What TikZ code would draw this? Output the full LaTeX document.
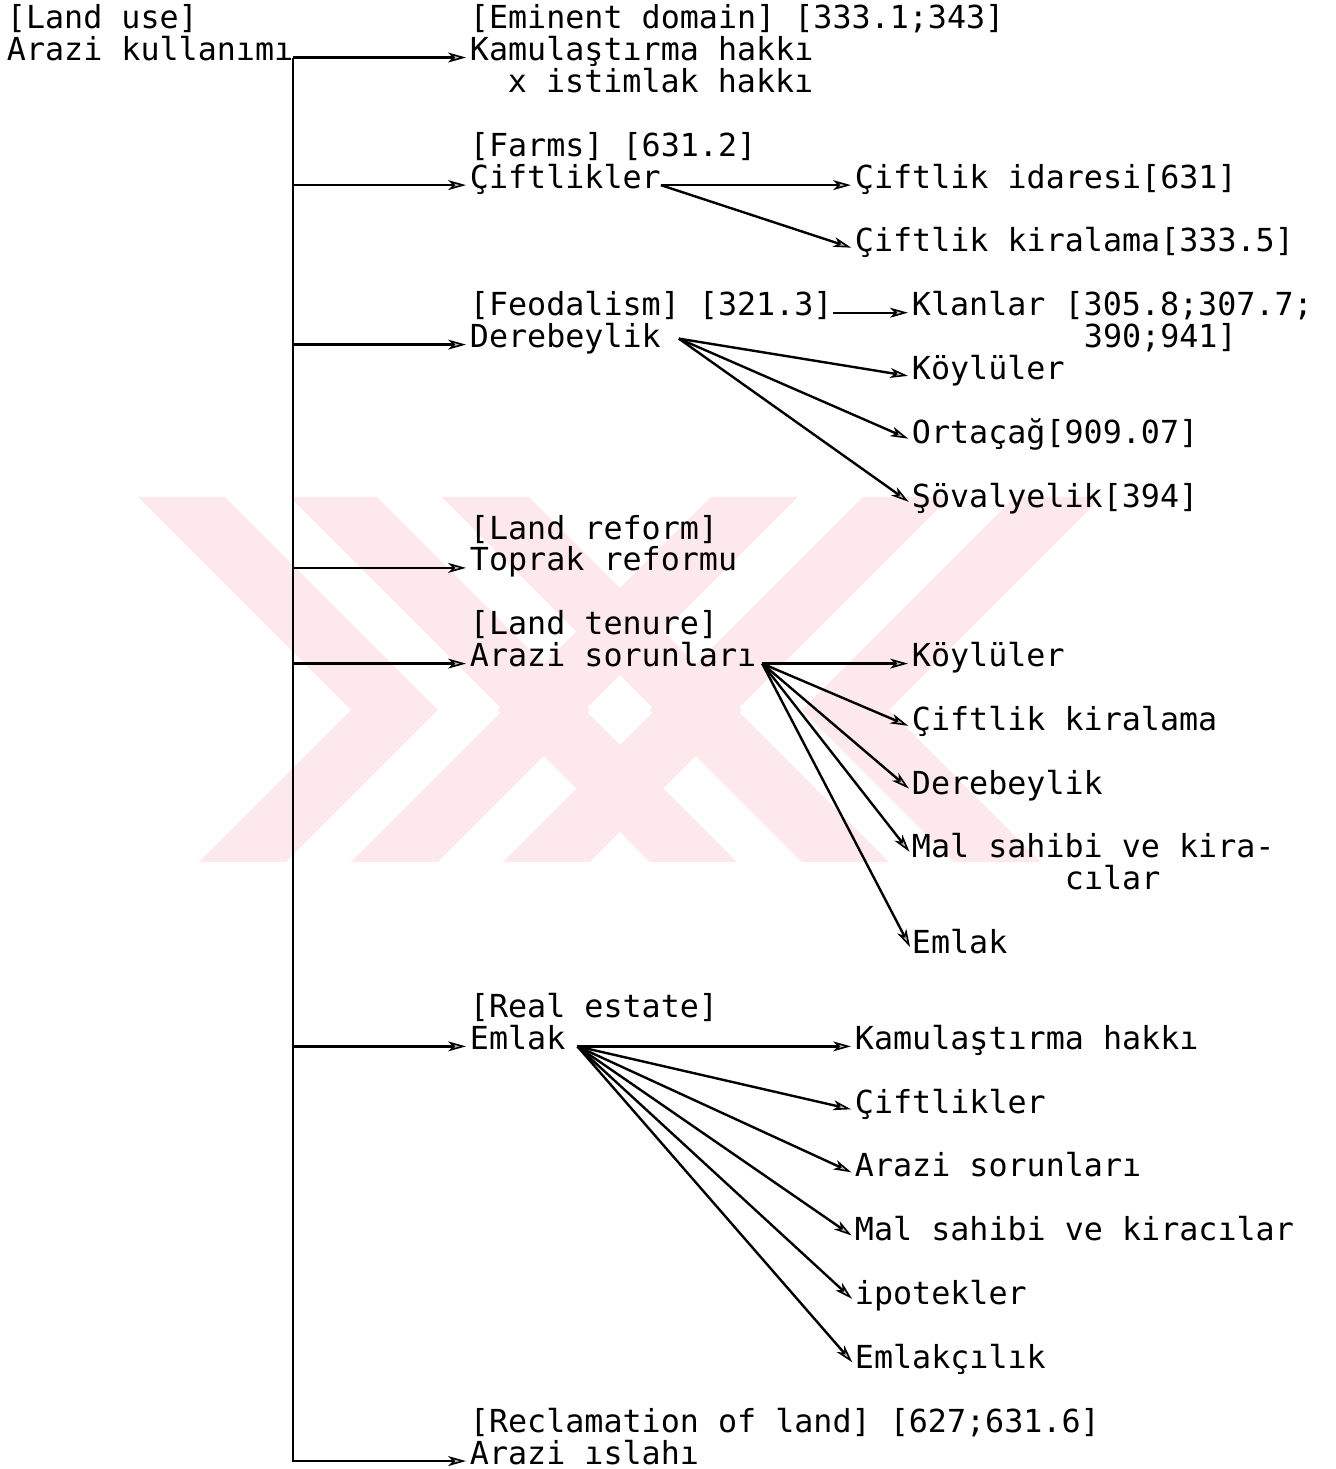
\documentclass[tikz,border=0pt]{standalone}
\usepackage{fontspec}
\setmonofont{DejaVu Sans Mono}
\usetikzlibrary{arrows.meta}
\definecolor{wmpink}{RGB}{253,232,236}

\begin{document}
\begin{tikzpicture}[
  x=0.5pt,y=-15.95pt,
  term/.style={anchor=base west,inner sep=0pt,outer sep=0pt,text height=0.73em,text depth=0.43em,
    font=\ttfamily\fontsize{15.85pt}{15.95pt}\selectfont},
  link/.style={draw=black,line width=1.2pt,shorten >=2pt,
    -{Stealth[length=9pt,width=5pt,inset=2.5pt,fill=black!25,line width=0.8pt]}}
]
\useasboundingbox[fill=white] (0,-0.897) rectangle (1336,45.155);

% watermark
\begin{scope}[shift={(0,-0.897)},y=-0.5pt]
  \clip (138,497) rectangle (1102,862);
  \fill[wmpink] (138,497) -- (225,497) -- (438,710) -- (286,862) -- (199,862) -- (351,710) -- cycle;
  \fill[wmpink] (290,497) -- (377,497) -- (590,710) -- (438,862) -- (351,862) -- (503,710) -- cycle;
  \fill[wmpink] (442,497) -- (529,497) -- (742,710) -- (590,862) -- (503,862) -- (655,710) -- cycle;
  \fill[wmpink] (1102,497) -- (1015,497) -- (802,710) -- (954,862) -- (1041,862) -- (889,710) -- cycle;
  \fill[wmpink] (950,497) -- (863,497) -- (650,710) -- (802,862) -- (889,862) -- (737,710) -- cycle;
  \fill[wmpink] (798,497) -- (711,497) -- (498,710) -- (650,862) -- (737,862) -- (585,710) -- cycle;
\end{scope}

% root
\node[term] (luse) at (7,0) {[Land use]};
\node[term] (akul) at (7,1) {Arazi kullanımı};

% second column
\node[term] (emin) at (470,0) {[Eminent domain] [333.1;343]};
\node[term] (kamu) at (470,1) {Kamulaştırma hakkı};
\node[term] (isti) at (508,2) {x istimlak hakkı};
\node[term] (farm) at (470,4) {[Farms] [631.2]};
\node[term] (cift) at (470,5) {Çiftlikler};
\node[term] (feod) at (470,9) {[Feodalism] [321.3]};
\node[term] (dere) at (470,10) {Derebeylik};
\node[term] (lref) at (470,16) {[Land reform]};
\node[term] (topr) at (470,17) {Toprak reformu};
\node[term] (lten) at (470,19) {[Land tenure]};
\node[term] (aras) at (470,20) {Arazi sorunları};
\node[term] (rest) at (470,31) {[Real estate]};
\node[term] (emlk) at (470,32) {Emlak};
\node[term] (recl) at (470,44) {[Reclamation of land] [627;631.6]};
\node[term] (isla) at (470,45) {Arazi ıslahı};

% third column
\node[term] (cidr) at (855,5) {Çiftlik idaresi[631]};
\node[term] (ckir) at (855,7) {Çiftlik kiralama[333.5]};
\node[term] (klan) at (912,9) {Klanlar [305.8;307.7;};
\node[term] (kln2) at (1084,10) {390;941]};
\node[term] (koy1) at (912,11) {Köylüler};
\node[term] (orta) at (912,13) {Ortaçağ[909.07]};
\node[term] (sova) at (912,15) {Şövalyelik[394]};
\node[term] (koy2) at (912,20) {Köylüler};
\node[term] (ckr2) at (912,22) {Çiftlik kiralama};
\node[term] (drb2) at (912,24) {Derebeylik};
\node[term] (mal1) at (912,26) {Mal sahibi ve kira-};
\node[term] (mal2) at (1065,27) {cılar};
\node[term] (eml2) at (912,29) {Emlak};
\node[term] (kam2) at (855,32) {Kamulaştırma hakkı};
\node[term] (cft2) at (855,34) {Çiftlikler};
\node[term] (ars2) at (855,36) {Arazi sorunları};
\node[term] (mal3) at (855,38) {Mal sahibi ve kiracılar};
\node[term] (ipot) at (855,40) {ipotekler};
\node[term] (emlc) at (855,42) {Emlakçılık};

% trunk and branches
\draw[link] (akul.east) -- (kamu.west);
\draw[link] (akul.east) |- (isla.west);
\draw[link] (akul.east |- cift.west) -- (cift.west);
\draw[link] (akul.east |- dere.west) -- (dere.west);
\draw[link] (akul.east |- topr.west) -- (topr.west);
\draw[link] (akul.east |- aras.west) -- (aras.west);
\draw[link] (akul.east |- emlk.west) -- (emlk.west);

% fans
\coordinate (derehub) at ([xshift=9pt,yshift=3pt]dere.east);
\coordinate (arashub) at ([xshift=3pt]aras.east);
\coordinate (emlkhub) at ([xshift=6pt]emlk.east);

\draw[link] (cift.east) -- (cidr.west);
\draw[link] (cift.east) -- (ckir.west);
\draw[link] (feod.east) -- (klan.west);
\draw[link] (derehub) -- (koy1.west);
\draw[link] (derehub) -- (orta.west);
\draw[link] (derehub) -- (sova.west);
\draw[link] (arashub) -- (koy2.west);
\draw[link] (arashub) -- (ckr2.west);
\draw[link] (arashub) -- (drb2.west);
\draw[link] (arashub) -- (mal1.west);
\draw[link] (arashub) -- (eml2.west);
\draw[link] (emlkhub) -- (kam2.west);
\draw[link] (emlkhub) -- (cft2.west);
\draw[link] (emlkhub) -- (ars2.west);
\draw[link] (emlkhub) -- (mal3.west);
\draw[link] (emlkhub) -- (ipot.west);
\draw[link] (emlkhub) -- (emlc.west);
\end{tikzpicture}
\end{document}
